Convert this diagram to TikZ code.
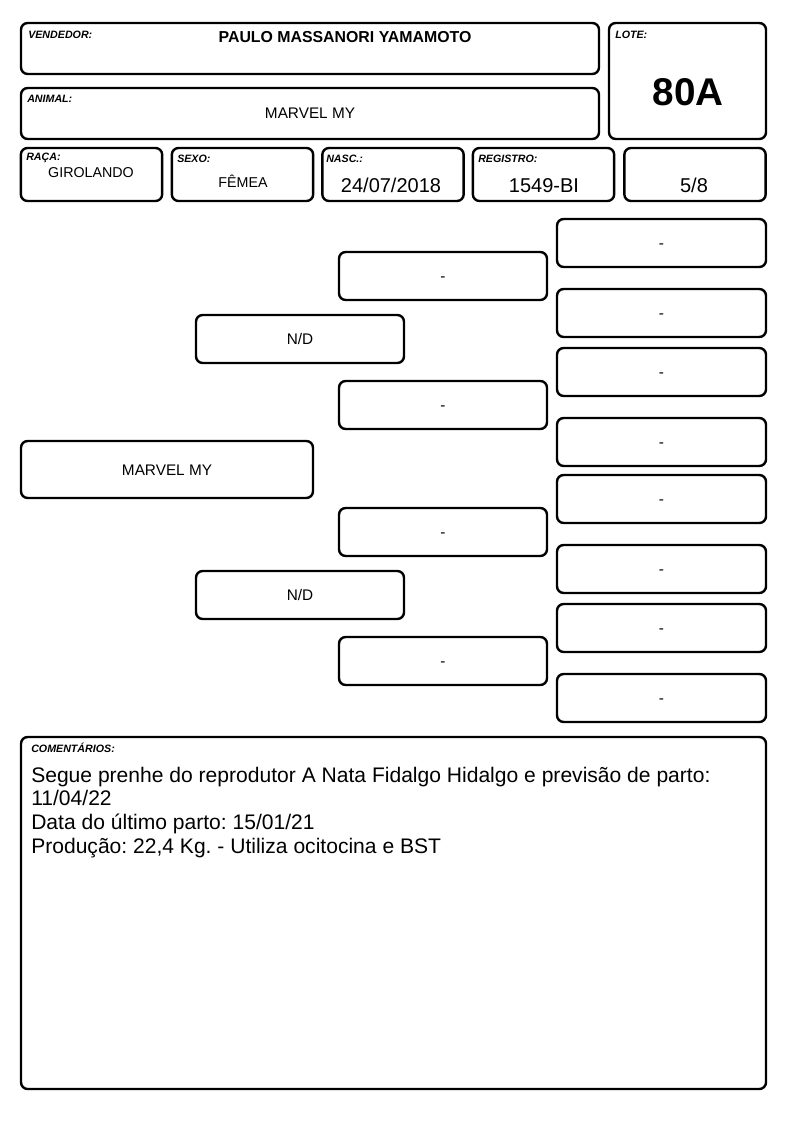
\documentclass[tikz,border=0pt]{standalone}
\usepackage{fontspec}
\setmainfont{Liberation Sans}
\frenchspacing

\begin{document}
\begin{tikzpicture}[x=0.75pt,y=-0.75pt,
  caixa/.style={draw, line width=1.8pt, rounded corners=5pt, inner sep=0pt},
  linha/.style={caixa, minimum width=106pt, minimum height=39.75pt},
  ped1/.style={caixa, minimum width=219pt, minimum height=42.75pt, text height=8.3pt, text depth=0pt, font=\fontsize{11.5}{13}\selectfont},
  ped2/.style={caixa, minimum width=156pt, minimum height=36pt, text height=8.3pt, text depth=0pt, font=\fontsize{11.5}{13}\selectfont},
  ped4/.style={caixa, minimum width=156.75pt, minimum height=36pt, text height=8.3pt, text depth=0pt, font=\fontsize{11.5}{13}\selectfont},
  rotulo/.style={anchor=base west, inner sep=0pt, font=\fontsize{8}{9}\selectfont\bfseries\itshape},
  valor/.style={anchor=base, inner sep=0pt, font=\fontsize{11.5}{13}\selectfont},
  grande/.style={font=\fontsize{15}{17}\selectfont}]
\useasboundingbox (0,0) rectangle (794,1123);
% cabecalho
\node[caixa, minimum width=433.5pt, minimum height=38.25pt] (vendedor) at (310,48.5) {};
\node[caixa, minimum width=117.75pt, minimum height=87pt] (lote) at (687.5,81) {};
\node[caixa, minimum width=433.5pt, minimum height=38.25pt] (animal) at (310,113.5) {};
\node[linha] (raca) at (91.5,174.5) {};
\node[linha] (sexo) at (242.5,174.5) {};
\node[linha] (nasc) at (393,174.5) {};
\node[linha] (registro) at (543.5,174.5) {};
\node[linha] (grau) at (695,174.5) {};
\node[rotulo] (rvendedor) at (28,39) {VENDEDOR:};
\node[rotulo] (rlote) at (615,39) {LOTE:};
\node[rotulo] (ranimal) at (27,103) {ANIMAL:};
\node[rotulo] (rraca) at (26,161) {RAÇA:};
\node[rotulo] (rsexo) at (177,163) {SEXO:};
\node[rotulo] (rnasc) at (326,163) {NASC.:};
\node[rotulo] (rregistro) at (478,163) {REGISTRO:};
\node[valor, font=\fontsize{11.9}{13}\selectfont\bfseries] (nvendedor) at (345,43) {PAULO MASSANORI YAMAMOTO};
\node[valor, font=\fontsize{29}{32}\selectfont\bfseries] (nlote) at (688,106) {80A};
\node[valor] (nanimal) at (310,119) {MARVEL MY};
\node[valor, font=\fontsize{10.7}{12}\selectfont] (nraca) at (91,178) {GIROLANDO};
\node[valor, font=\fontsize{10.7}{12}\selectfont] (nsexo) at (243,188) {FÊMEA};
\node[valor, grande] (nnasc) at (391,193) {24/07/2018};
\node[valor, grande] (nregistro) at (544,193) {1549-BI};
\node[valor, grande] (ngrau) at (694,193) {5/8};
% genealogia
\node[ped1] (marvel) at (167,469.5) {MARVEL MY};
\node[ped2] (pai) at (300,339) {N/D};
\node[ped2] (mae) at (300,595) {N/D};
\node[ped2] (avo1) at (443,276) {-};
\node[ped2] (avo2) at (443,405) {-};
\node[ped2] (avo3) at (443,532) {-};
\node[ped2] (avo4) at (443,661) {-};
\node[ped4] (bis1) at (661.5,243) {-};
\node[ped4] (bis2) at (661.5,313) {-};
\node[ped4] (bis3) at (661.5,372) {-};
\node[ped4] (bis4) at (661.5,442) {-};
\node[ped4] (bis5) at (661.5,499) {-};
\node[ped4] (bis6) at (661.5,569) {-};
\node[ped4] (bis7) at (661.5,628) {-};
\node[ped4] (bis8) at (661.5,698) {-};
% comentarios
\node[caixa, minimum width=558.75pt, minimum height=264pt] (comentarios) at (393.5,913) {};
\node[rotulo] (rcomentarios) at (31,752) {COMENTÁRIOS:};
\node[anchor=north west, inner sep=0pt, align=left, font=\fontsize{15.8}{17.8}\selectfont] (texto) at (31,766.5) {Segue prenhe do reprodutor A Nata Fidalgo Hidalgo e previsão de parto:\\11/04/22\\Data do último parto: 15/01/21\\Produção: 22,4 Kg. - Utiliza ocitocina e BST};
\end{tikzpicture}
\end{document}
